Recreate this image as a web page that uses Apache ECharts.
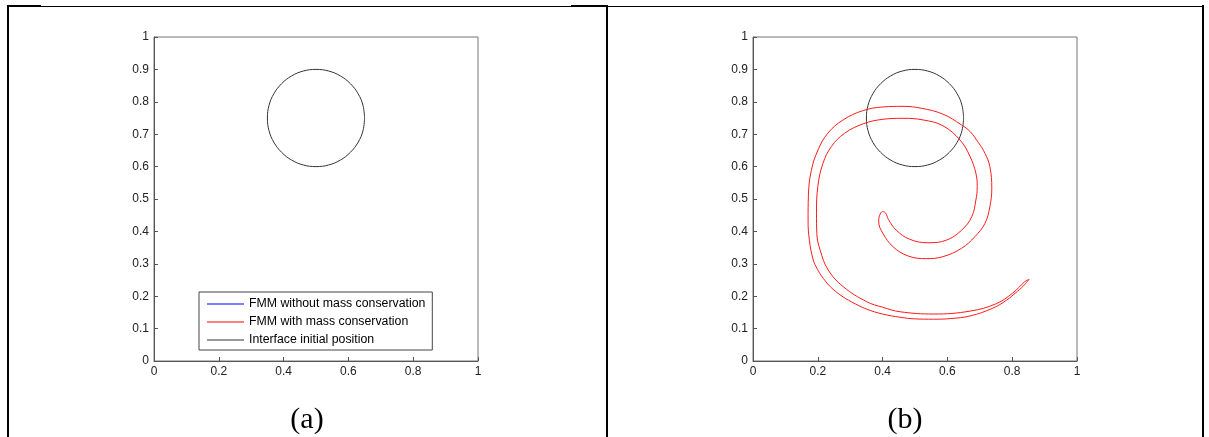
<!DOCTYPE html>
<html>
<head>
<meta charset="utf-8">
<script src="https://cdn.jsdelivr.net/npm/echarts@6/dist/echarts.min.js"></script>
<style>
  html, body { margin: 0; padding: 0; background: #fff; }
  #wrap { position: relative; width: 1209px; height: 437px; overflow: hidden; }
  #chart { position: absolute; left: 0; top: 0; width: 1209px; height: 437px; }
  .ln { position: absolute; background: #000; }
</style>
</head>
<body>
<div id="wrap">
  <!-- table borders -->
  <div class="ln" style="left:7px; top:6px; width:1197px; height:1px;"></div>
  <div class="ln" style="left:7px; top:5px; width:34px; height:2px;"></div>
  <div class="ln" style="left:571px; top:5px; width:37px; height:2px;"></div>
  <div class="ln" style="left:7px; top:5px; width:2px; height:432px;"></div>
  <div class="ln" style="left:606px; top:5px; width:2px; height:432px;"></div>
  <div class="ln" style="left:1202px; top:5px; width:2px; height:432px;"></div>
  <div id="chart"></div>
</div>
<script>
// interface initial position (circle)
const circlePts = [
  [0.650, 0.750], [0.645, 0.789], [0.630, 0.825], [0.606, 0.856], [0.575, 0.880],
  [0.539, 0.895], [0.500, 0.900], [0.461, 0.895], [0.425, 0.880], [0.394, 0.856],
  [0.370, 0.825], [0.355, 0.789], [0.350, 0.750], [0.355, 0.711], [0.370, 0.675],
  [0.394, 0.644], [0.425, 0.620], [0.461, 0.605], [0.500, 0.600], [0.539, 0.605],
  [0.575, 0.620], [0.606, 0.644], [0.630, 0.675], [0.645, 0.711], [0.650, 0.750]
]

// FMM with mass conservation, panel (b): outer edge of the band (tip -> inner tip)
const spiralOuter = [
  [0.852, 0.252], [0.835, 0.232], [0.810, 0.210], [0.783, 0.188], [0.740, 0.163],
  [0.670, 0.139], [0.610, 0.131], [0.557, 0.129], [0.500, 0.130], [0.454, 0.135],
  [0.400, 0.145], [0.351, 0.160], [0.305, 0.182], [0.269, 0.204], [0.240, 0.228],
  [0.217, 0.255], [0.199, 0.283], [0.186, 0.312], [0.174, 0.373], [0.170, 0.435],
  [0.171, 0.510], [0.180, 0.588], [0.201, 0.652], [0.231, 0.703], [0.278, 0.744],
  [0.340, 0.773], [0.401, 0.784], [0.463, 0.786], [0.520, 0.780], [0.586, 0.762],
  [0.643, 0.729], [0.670, 0.708], [0.695, 0.675], [0.716, 0.641], [0.731, 0.600],
  [0.737, 0.533], [0.731, 0.476], [0.716, 0.425], [0.685, 0.384], [0.644, 0.348],
  [0.586, 0.322], [0.535, 0.316], [0.479, 0.324], [0.432, 0.353], [0.401, 0.394],
  [0.388, 0.430], [0.391, 0.450], [0.400, 0.461], [0.409, 0.457], [0.418, 0.437]
]
// inner edge of the band (inner tip -> outer tip)
const spiralInner = [
  [0.442, 0.404], [0.483, 0.376], [0.540, 0.365], [0.597, 0.373], [0.644, 0.404],
  [0.675, 0.445], [0.688, 0.497], [0.692, 0.538], [0.688, 0.579], [0.670, 0.631],
  [0.639, 0.682], [0.586, 0.726], [0.525, 0.744], [0.463, 0.749], [0.401, 0.746],
  [0.340, 0.732], [0.283, 0.703], [0.242, 0.662], [0.216, 0.610], [0.200, 0.538],
  [0.196, 0.456], [0.197, 0.394], [0.207, 0.343], [0.232, 0.281], [0.279, 0.229],
  [0.351, 0.183], [0.400, 0.166], [0.454, 0.152], [0.557, 0.145], [0.670, 0.154],
  [0.751, 0.177], [0.802, 0.210], [0.838, 0.244], [0.852, 0.252]
]

const legendNames = ['FMM without mass conservation', 'FMM with mass conservation', 'Interface initial position']
const panelLabels = ['(a)', '(b)']

const font = '"Liberation Sans", Arial, sans-serif'

function xAxisOpt(idx) {
  return {
    gridIndex: idx, type: 'value', min: 0, max: 1, interval: 0.2,
    axisLine: { lineStyle: { color: '#555', width: 1 } },
    axisTick: { inside: true, length: 4, lineStyle: { color: '#555' } },
    axisLabel: { margin: 5, fontSize: 12, color: '#222', fontFamily: font },
    splitLine: { show: false }
  }
}
function yAxisOpt(idx) {
  return {
    gridIndex: idx, type: 'value', min: 0, max: 1, interval: 0.1,
    axisLine: { lineStyle: { color: '#555', width: 1 } },
    axisTick: { inside: true, length: 4, lineStyle: { color: '#555' } },
    axisLabel: { margin: 5, fontSize: 12, color: '#222', fontFamily: font },
    splitLine: { show: false }
  }
}
function lineSeries(name, idx, data, color) {
  return {
    name: name, type: 'line', xAxisIndex: idx, yAxisIndex: idx,
    data: data, symbol: 'none', smooth: 0.4,
    lineStyle: { color: color, width: 1 }, itemStyle: { color: color }
  }
}

let chart = echarts.init(document.getElementById('chart'), null, { renderer: 'canvas' })
let option = {
  animation: false,
  backgroundColor: 'transparent',
  grid: [
    { left: 154, top: 37, width: 324, height: 324, show: true, borderColor: '#777', borderWidth: 1 },
    { left: 753, top: 37, width: 324, height: 324, show: true, borderColor: '#777', borderWidth: 1 }
  ],
  xAxis: [xAxisOpt(0), xAxisOpt(1)],
  yAxis: [yAxisOpt(0), yAxisOpt(1)],
  legend: {
    data: legendNames.map(n => ({ name: n, icon: 'rect' })),
    orient: 'vertical',
    left: 199, top: 292,
    padding: [5, 7, 3, 8],
    itemWidth: 37, itemHeight: 1, itemGap: 4,
    borderColor: '#444', borderWidth: 1,
    selectedMode: false,
    textStyle: { fontSize: 12.3, color: '#000', fontFamily: font, lineHeight: 14 }
  },
  graphic: panelLabels.map((t, i) => ({
    type: 'text', x: i === 0 ? 307 : 905, y: 420,
    style: { text: t, fill: '#000', font: '30px "Liberation Serif", "Times New Roman", serif', textAlign: 'center', textVerticalAlign: 'middle' }
  })),
  series: [
    lineSeries(legendNames[0], 0, [], '#0000ff'),
    lineSeries(legendNames[1], 0, [], '#ff0000'),
    lineSeries(legendNames[2], 0, circlePts, '#333'),
    lineSeries(legendNames[2], 1, circlePts, '#333'),
    lineSeries(legendNames[1], 1, spiralOuter.concat(spiralInner), '#ff1a1a')
  ]
}
chart.setOption(option)
</script>
</body>
</html>
